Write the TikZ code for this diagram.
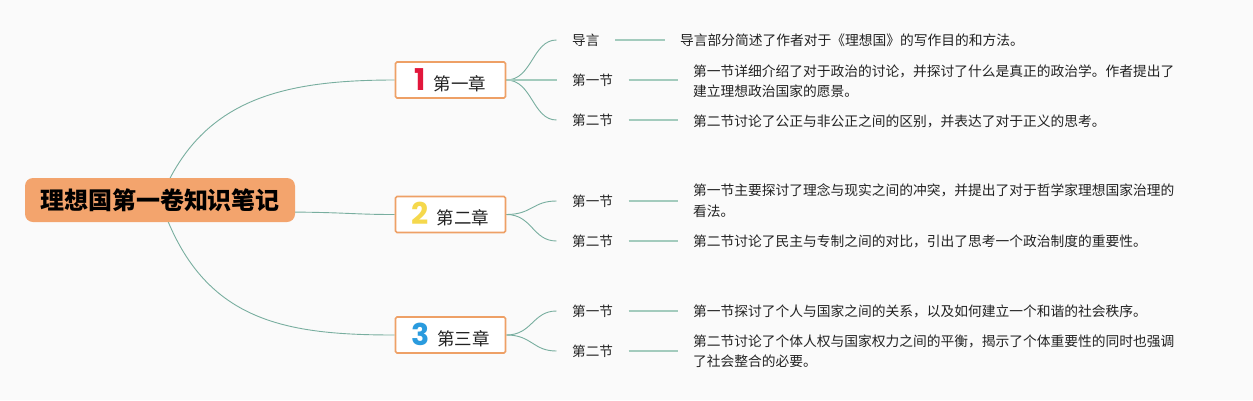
\documentclass[tikz,border=0pt]{standalone}
\usepackage{fontspec}
\setmainfont{Noto Sans CJK SC}
\newfontfamily\cjk{Noto Sans CJK SC}
\newfontfamily\numfont{Poppins}
\usetikzlibrary{calc}
\definecolor{bgc}{HTML}{FAFAFA}
\definecolor{rootfill}{HTML}{F3A46D}
\definecolor{chborder}{HTML}{EEA066}
\definecolor{edgec}{HTML}{78AE9F}
\definecolor{stubc}{HTML}{A3CBBD}
\definecolor{nred}{HTML}{E2163B}
\definecolor{nyellow}{HTML}{F5D84C}
\definecolor{nblue}{HTML}{2A9BDE}
\definecolor{txt}{HTML}{222222}
\newcommand{\chapnum}[2]{{\color{#1}\numfont\bfseries\fontsize{30}{30}\selectfont #2}}
\pgfdeclarelayer{bglayer}
\pgfdeclarelayer{edgelayer}
\pgfsetlayers{bglayer,edgelayer,main}
\tikzset{
  rootbox/.style={fill=rootfill, rounded corners=8pt, minimum width=270pt, minimum height=44pt, inner sep=0pt, font=\cjk\bfseries\fontsize{24}{28}\selectfont, text=black},
  chapbox/.style={draw=chborder, line width=1.6pt, fill=white, rounded corners=1.5pt, minimum width=110pt, minimum height=36pt, inner sep=0pt, font=\cjk\fontsize{17.5}{19}\selectfont, text=txt},
  seclabel/.style={anchor=west, inner xsep=15.5pt, inner ysep=0pt, font=\cjk\fontsize{13.6}{16}\selectfont, text=txt},
  desc/.style={anchor=west, inner xsep=15pt, inner ysep=0pt, align=left, font=\cjk\fontsize{13.75}{20.5}\selectfont, text=txt},
  curveedge/.style={draw=edgec, line width=0.9pt},
  stubedge/.style={draw=stubc, line width=1.8pt}
}
\begin{document}
\begin{tikzpicture}[x=1pt,y=-1pt]
\begin{pgfonlayer}{bglayer}
\fill[bgc] (0,0) rectangle (1253,400);
\end{pgfonlayer}
\useasboundingbox (0,0) rectangle (1253,400);

% root
\node[rootbox] (root) at (160,200) {理想国第一卷知识笔记};

% chapters
\node[chapbox] (ch1) at (450.5,80) {\chapnum{nred}{1}\hspace{8pt}第一章};
\node[chapbox] (ch2) at (450.5,214.5) {\chapnum{nyellow}{2}\hspace{8pt}第二章};
\node[chapbox] (ch3) at (450.5,335) {\chapnum{nblue}{3}\hspace{8pt}第三章};

% section labels
\node[seclabel] (s10) at (556.5,40) {导言};
\node[seclabel] (s11) at (556.5,80) {第一节};
\node[seclabel] (s12) at (556.5,120) {第二节};
\node[seclabel] (s21) at (556.5,201) {第一节};
\node[seclabel] (s22) at (556.5,241) {第二节};
\node[seclabel] (s31) at (556.5,311) {第一节};
\node[seclabel] (s32) at (556.5,351) {第二节};

% descriptions
\node[desc] (d10) at (665,40.5) {导言部分简述了作者对于《理想国》的写作目的和方法。};
\node[desc] (d11) at (678,81) {第一节详细介绍了对于政治的讨论，并探讨了什么是真正的政治学。作者提出了\\建立理想政治国家的愿景。};
\node[desc] (d12) at (678,121) {第二节讨论了公正与非公正之间的区别，并表达了对于正义的思考。};
\node[desc] (d21) at (678,200.5) {第一节主要探讨了理念与现实之间的冲突，并提出了对于哲学家理想国家治理的\\看法。};
\node[desc] (d22) at (678,241) {第二节讨论了民主与专制之间的对比，引出了思考一个政治制度的重要性。};
\node[desc] (d31) at (678,311) {第一节探讨了个人与国家之间的关系，以及如何建立一个和谐的社会秩序。};
\node[desc] (d32) at (678,351) {第二节讨论了个体人权与国家权力之间的平衡，揭示了个体重要性的同时也强调\\了社会整合的必要。};

\begin{pgfonlayer}{edgelayer}
% root to chapters
\draw[curveedge] (root.center) .. controls (200,100) and (280,80) .. (ch1.west);
\draw[curveedge] ($(root.east)+(-20,12)$) .. controls (345,212) and (350,214.5) .. (ch2.west);
\draw[curveedge] (root.center) .. controls (200,320) and (280,335) .. (ch3.west);
% chapter to sections
\foreach \c/\s in {ch1/s10, ch1/s12, ch2/s21, ch2/s22, ch3/s31, ch3/s32}{
  \draw[curveedge] (\c.east) .. controls +(26,0) and ($(\s.west)+(-24,0)$) .. (\s.west);
}
\draw[stubedge] (ch1.east) -- (s11.west);
% section to description stubs
\foreach \s/\d in {s10/d10, s11/d11, s12/d12, s21/d21, s22/d22, s31/d31, s32/d32}{
  \draw[stubedge] (\s.east) -- (\s.east -| \d.west);
}
\end{pgfonlayer}
\end{tikzpicture}
\end{document}
